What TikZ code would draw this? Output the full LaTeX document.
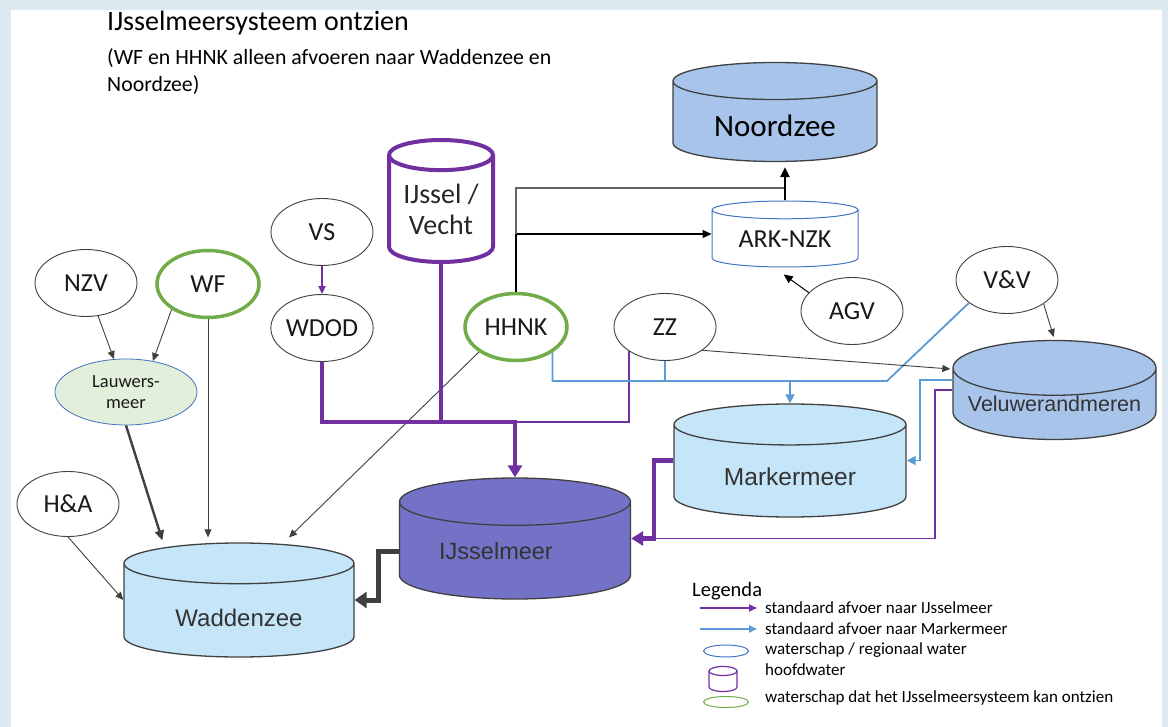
\documentclass[tikz,border=0pt]{standalone}
\usepackage{fontspec}
\setmainfont{Carlito}
\newfontfamily\arialfont{Liberation Sans}
\usetikzlibrary{shapes.geometric,arrows.meta,calc}

\definecolor{paars}{HTML}{7030A0}
\definecolor{blauw}{HTML}{5B9BD5}
\definecolor{groen}{HTML}{70AD47}
\definecolor{rand}{HTML}{DEEAF1}
\definecolor{zeeblauw}{HTML}{A9C4EB}
\definecolor{meerblauw}{HTML}{C5E5F9}
\definecolor{ijmeer}{HTML}{7472C6}
\definecolor{lauwers}{HTML}{E2EFDA}
\definecolor{lijnblauw}{HTML}{4472C4}
\definecolor{donker}{HTML}{404040}

\tikzset{
  ws/.style={ellipse, draw=donker, line width=0.9pt, fill=white, minimum width=102pt,
    minimum height=67pt, inner sep=0pt, text=black!90, font=\fontsize{26}{28}\selectfont},
  wsgroen/.style={ws, draw=groen, line width=3.5pt},
  meer/.style={cylinder, shape border rotate=90, draw=donker, line width=1.3pt, inner sep=0pt,
    anchor=shape center, text=black!80, font=\arialfont\fontsize{23.5}{26}\selectfont},
  grijspijl/.style={draw=donker, line width=0.9pt, -{Triangle[length=8pt,width=7pt]}},
  dikpijl/.style={draw=donker, line width=2.4pt, -{Triangle[length=10pt,width=9pt]}},
  donkerdik/.style={draw=donker, line width=5pt, -{Triangle[length=12pt,width=16pt]}},
  paarsdik/.style={draw=paars, line width=4.5pt},
  paarsdun/.style={draw=paars, line width=1.8pt},
  paarspijl/.style={-{Triangle[length=12pt,width=14pt]}},
  blauwlijn/.style={draw=blauw, line width=1.8pt},
  blauwpijl/.style={-{Triangle[length=9pt,width=9pt]}},
  legtekst/.style={anchor=west, font=\fontsize{17}{20}\selectfont, inner sep=0pt}
}

\begin{document}
\begin{tikzpicture}[x=1pt,y=-1pt]
        \useasboundingbox (0,0) rectangle (1168,727);
        \fill[rand] (0,0) rectangle (1168,727);
        \fill[white] (11,10) rectangle (1162,727);

        \node[anchor=base west, inner sep=0pt, font=\fontsize{28}{30}\selectfont] (titel) at (107,31) {IJsselmeersysteem ontzien};
        \node[anchor=base west, inner sep=0pt, font=\fontsize{21.8}{26}\selectfont] (sub1) at (107,65) {(WF en HHNK alleen afvoeren naar Waddenzee en};
        \node[anchor=base west, inner sep=0pt, font=\fontsize{21.8}{26}\selectfont] (sub2) at (107,92) {Noordzee)};

        % hoofdwateren
        \node[meer, fill=zeeblauw, minimum width=204pt, minimum height=99pt, aspect=0.304,
          font=\fontsize{31}{33}\selectfont, text=black, text height=29pt, text depth=0pt] (nz) at (775,112) {Noordzee};
        \node[meer, fill=white, draw=lijnblauw, line width=1pt, minimum width=146pt, minimum height=66pt,
          aspect=0.192, font=\fontsize{26}{28}\selectfont, text=black!90] (ark) at (785,234) {ARK-NZK};
        \node[meer, fill=white, draw=paars, line width=4pt, minimum width=104pt, minimum height=122pt,
          aspect=0.4, align=center, font=\fontsize{28}{31}\selectfont, text=black!85] (ijv) at (441,201) {IJssel /\\Vecht};
        \node[meer, fill=zeeblauw, minimum width=203pt, minimum height=99pt, aspect=0.316,
          font=\arialfont\fontsize{21.5}{24}\selectfont] (ve) at (1054.5,390) {Veluwerandmeren};
        \node[meer, fill=meerblauw, minimum width=232pt, minimum height=113pt, aspect=0.31,
          font=\arialfont\fontsize{24.5}{26}\selectfont, text height=29pt, text depth=0pt] (mm) at (790,460.5) {Markermeer};
        \node[meer, fill=ijmeer, minimum width=231pt, minimum height=121pt, aspect=0.312] (ij) at (515,538.5) {IJsselmeer\hspace*{38pt}};
        \node[meer, fill=meerblauw, minimum width=230pt, minimum height=114pt, aspect=0.32,
          font=\arialfont\fontsize{24}{26}\selectfont, text height=31pt, text depth=0pt] (wz) at (239,600) {Waddenzee};

        % waterschappen
        \node[ws] (nzv) at (86,283) {NZV};
        \node[wsgroen] (wf) at (208,284) {WF};
        \node[ws, fill=lauwers, draw=lijnblauw, line width=0.8pt, minimum width=142pt, minimum height=66pt,
          align=center, font=\fontsize{18.5}{21}\selectfont] (lw) at (126,392) {Lauwers-\\meer};
        \node[ws] (vs) at (322,232) {VS};
        \node[ws] (wdod) at (322,328) {WDOD};
        \node[wsgroen] (hhnk) at (516,327) {HHNK};
        \node[ws] (zz) at (665,327) {ZZ};
        \node[ws] (agv) at (852,311) {AGV};
        \node[ws] (vv) at (1007,280) {V\&V};
        \node[ws, minimum height=65pt] (ha) at (68,504) {H\&A};

        \coordinate (samen) at (515,422);
        \coordinate (bknik) at (887,381);
        \coordinate (nzknik) at (785,188);
        \coordinate (mknik) at (654,538.5);

        % naar Lauwersmeer en Waddenzee
        \draw[grijspijl] (nzv) -- (lw);
        \draw[grijspijl] (wf.215) -- (lw.49);
        \draw[grijspijl, shorten >=5pt] (wf.south) -- (wf.south |- wz.north);
        \draw[dikpijl, shorten >=2pt] (lw.south) -- ($(wz.north)+(-76,0)$);
        \draw[grijspijl, shorten >=7pt] (hhnk.214) -- ($(wz.north)+(45,0)$);
        \draw[grijspijl] (ha.south) -- (wz.west |- wz.shape center);
        \draw[donkerdik] ($(ij.west |- ij.shape center)+(0,13)$) -| ($(wz.east |- wz.shape center)+(24,0)$) -- (wz.east |- wz.shape center);

        % naar IJsselmeer
        \draw[paarsdun, -{Triangle[length=8pt,width=7pt]}] (vs) -- (wdod);
        \draw[paarsdik] (wdod.south) |- (samen);
        \draw[paarsdik, paarspijl] (ijv.south) |- (samen) -- (samen |- ij.north);
        \draw[paarsdun] (zz.south west) |- (samen);
        \draw[paarsdik, paarspijl] (mm.west |- mm.shape center) -| (mknik) -- (ij.east |- ij.shape center);
        \draw[paarsdun] (ve.west |- ve.shape center) -| ($(mknik)+(281,0)$) -- (mknik);

        % naar Markermeer
        \draw[blauwlijn] (hhnk.-35) |- (bknik) -- (vv.211);
        \draw[blauwlijn] (zz.south) -- (zz.south |- bknik);
        \draw[blauwlijn, blauwpijl] (mm.north |- bknik) -- (mm.north);
        \draw[blauwlijn, blauwpijl] ($(ve.west |- ve.shape center)+(0,-10)$) -| ($(mm.east |- mm.shape center)+(13,0)$) -- (mm.east |- mm.shape center);

        % naar ARK-NZK en Noordzee
        \draw[line width=2pt] (hhnk.north) -- (hhnk.north |- ark.shape center);
        \draw[line width=1.2pt, -{Triangle[length=9pt,width=8pt]}] (hhnk.north |- ark.shape center) -- (ark.west |- ark.shape center);
        \draw[black!60, line width=1.2pt] (hhnk.north |- ark.shape center) |- (nzknik);
        \draw[line width=2.4pt, -{Triangle[length=10pt,width=9pt]}, shorten >=5pt] (ark.north) -- (ark.north |- nz.south);
        \draw[black, line width=1pt, -{Triangle[length=9pt,width=8pt]}, shorten >=12pt] (agv.157) -- ($(ark.south)+(-11,0)$);
        \draw[grijspijl] (zz.-32) -- ($(ve.west |- ve.shape center)+(-2,-21)$);
        \draw[grijspijl, shorten >=3pt] (vv.-33) -- (ve.north);

        % legenda
        \node[anchor=west, inner sep=0pt, font=\fontsize{20.5}{24}\selectfont] (leg) at (692,591) {Legenda};
        \coordinate (lp1) at (700,608);
        \coordinate (lp2) at (757,608);
        \coordinate (lb1) at (700,629);
        \coordinate (lb2) at (757,629);
        \draw[paarsdun, -{Triangle[length=8pt,width=7pt]}] (lp1) -- (lp2);
        \draw[blauwlijn, -{Triangle[length=8pt,width=7pt]}] (lb1) -- (lb2);
        \node[ellipse, draw=lijnblauw, line width=1pt, minimum width=45pt, minimum height=12pt, inner sep=0pt] (lws) at (726,651) {};
        \draw[paars, line width=1.2pt] (709,671) -- (709,687) arc[start angle=180, end angle=0, x radius=14, y radius=4.5] -- (737,671);
        \draw[paars, line width=1.2pt] (723,671) ellipse [x radius=14, y radius=4.5];
        \node[ellipse, draw=groen, line width=1pt, minimum width=45pt, minimum height=11pt, inner sep=0pt] (lgr) at (726,702) {};
        \node[legtekst] at (765,608) {standaard afvoer naar IJsselmeer};
        \node[legtekst] at (765,629) {standaard afvoer naar Markermeer};
        \node[legtekst] at (765,650) {waterschap / regionaal water};
        \node[legtekst] at (765,670) {hoofdwater};
        \node[legtekst] at (765,698) {waterschap dat het IJsselmeersysteem kan ontzien};
\end{tikzpicture}
\end{document}
